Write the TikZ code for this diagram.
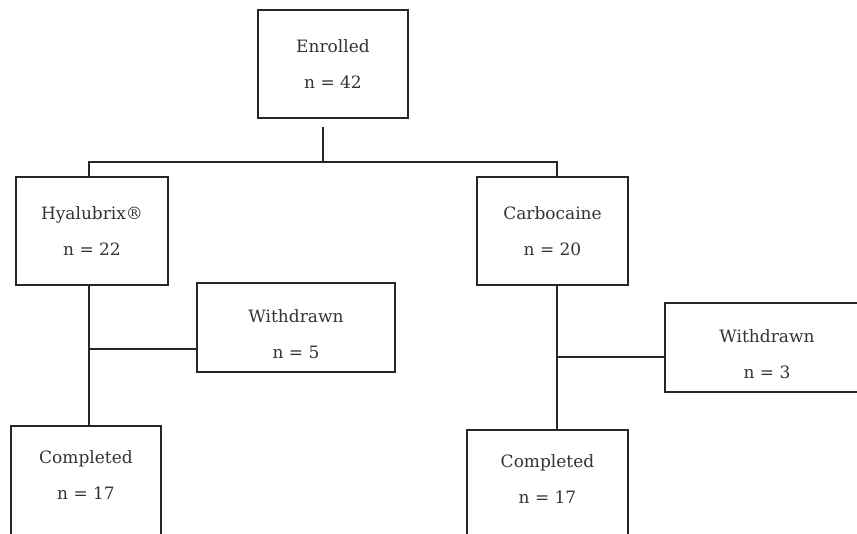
\documentclass[tikz,border=0pt]{standalone}
\usepackage{fontspec}
\setmainfont{DejaVu Serif}
\usepackage{tikz}
\usetikzlibrary{calc}
\usetikzlibrary{positioning}

\begin{document}
\begin{tikzpicture}[%
  x=1pt, y=-1pt,
  flowbox/.style={draw=black!85, line width=1.6pt, align=center,
    text=black!80, inner sep=0pt,
    font=\fontsize{17}{36}\selectfont},
  link/.style={draw=black!85, line width=1.6pt}
]

  \useasboundingbox (0,0) rectangle (857,533);
  \clip (0,0) rectangle (857,533);

  % boxes
  \node[flowbox, minimum width=150pt, minimum height=108pt] (enrolled) at (333,64) {Enrolled\\n = 42};
  \node[flowbox, minimum width=152pt, minimum height=108pt] (hyal) at (92,231) {Hyalubrix®\\n = 22};
  \node[flowbox, minimum width=151pt, minimum height=108pt] (carbo) at (552.5,231) {Carbocaine\\n = 20};
  \node[flowbox, minimum width=198pt, minimum height=89pt] (wdl) at (296,327.5) {\rule{0pt}{27pt}Withdrawn\\n = 5};
  \node[flowbox, minimum width=204pt, minimum height=89pt] (wdr) at (767,347.5) {\rule{0pt}{27pt}Withdrawn\\n = 3};
  \node[flowbox, minimum width=150pt, minimum height=134pt] (compl) at (86,493) {Completed\\n = 17\\\mbox{}};
  \node[flowbox, minimum width=161pt, minimum height=134pt] (compr) at (547.5,497) {Completed\\n = 17\\\mbox{}};

  % junctions
  \coordinate (split) at (323,162);
  \coordinate (lstem) at (89,162);
  \coordinate (rstem) at (557,162);
  \coordinate (lbranch) at (89,349);
  \coordinate (rbranch) at (557,357);

  \draw[link] ([xshift=-10pt,yshift=-8pt]enrolled.south) -- (split);
  \draw[link] (lstem |- hyal.north) -- (lstem) -- (rstem) -- (rstem |- carbo.north);

  \draw[link] (lstem |- hyal.south) -- (lstem |- compl.north);
  \draw[link] (lbranch) -- (lbranch -| wdl.west);

  \draw[link] (rstem |- carbo.south) -- (rstem |- compr.north);
  \draw[link] (rbranch) -- (rbranch -| wdr.west);

\end{tikzpicture}
\end{document}
